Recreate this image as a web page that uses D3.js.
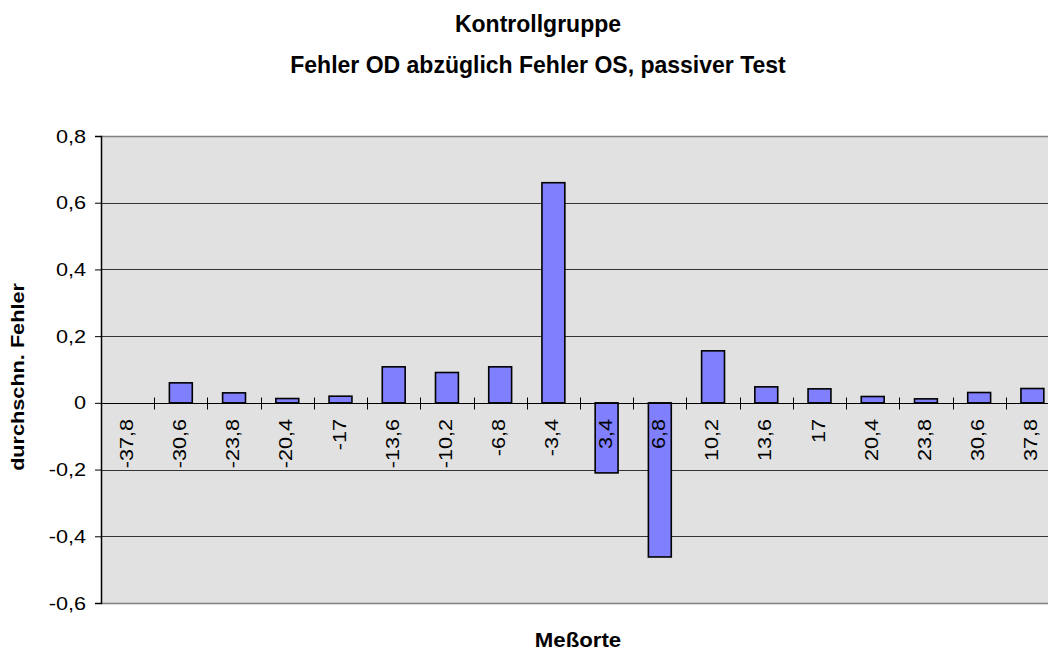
<!DOCTYPE html>
<html>
<head>
<meta charset="utf-8">
<script src="https://cdn.jsdelivr.net/npm/d3@7"></script>
<style>
  body { margin: 0; background: #fff; }
  text { font-family: "Liberation Sans", Arial, sans-serif; }
</style>
</head>
<body>
<svg id="chart"></svg>
<script>
var categories = ["-37,8", "-30,6", "-23,8", "-20,4", "-17", "-13,6", "-10,2", "-6,8", "-3,4",
                  "3,4", "6,8", "10,2", "13,6", "17", "20,4", "23,8", "30,6", "37,8"];
var values = [0, 0.06, 0.03, 0.013, 0.02, 0.108, 0.091, 0.108, 0.66,
              -0.21, -0.462, 0.156, 0.048, 0.042, 0.019, 0.012, 0.031, 0.043];
var yTicks = [-0.6, -0.4, -0.2, 0, 0.2, 0.4, 0.6, 0.8];
var titleLines = ["Kontrollgruppe", "Fehler OD abzüglich Fehler OS, passiver Test"];

var width = 1048;
var height = 653;
var plot = {left: 101, right: 1059, top: 136, bottom: 603};
var stretch = 1.14; // the source text is drawn a little wider than Arial

var de = d3.formatLocale({decimal: ",", thousands: ".", grouping: [3], currency: ["", "€"], minus: "-"});
var fmt = function(d) { return d === 0 ? "0" : de.format(".1f")(d); };

var svg = d3.select("#chart")
    .attr("width", width)
    .attr("height", height);

function widen(sel) {
    sel.each(function() {
        var w = this.getComputedTextLength();
        d3.select(this).attr("textLength", w * stretch).attr("lengthAdjust", "spacingAndGlyphs");
    });
}

var x = d3.scaleBand()
    .domain(categories)
    .range([plot.left, plot.right])
    .padding(0);

var y = d3.scaleLinear()
    .domain([-0.6, 0.8])
    .range([plot.bottom, plot.top]);

// plot background
svg.append("rect")
    .attr("x", plot.left)
    .attr("y", plot.top)
    .attr("width", plot.right - plot.left)
    .attr("height", plot.bottom - plot.top)
    .attr("fill", "#e1e1e1");

// gridlines
svg.append("g").selectAll("line")
    .data(yTicks)
    .enter().append("line")
    .attr("x1", plot.left)
    .attr("x2", plot.right)
    .attr("y1", function(d) { return Math.round(y(d)) + 0.5; })
    .attr("y2", function(d) { return Math.round(y(d)) + 0.5; })
    .attr("stroke", function(d) { return (d === 0.8 || d === -0.6) ? "#808080" : "#333"; })
    .attr("stroke-width", function(d) { return (d === 0.8 || d === -0.6) ? 1.5 : 1; });

// bars
var barW = x.bandwidth() * 0.43;
svg.append("g").selectAll("rect")
    .data(values.map(function(v, i) { return {cat: categories[i], v: v}; }))
    .enter().append("rect")
    .filter(function(d) { return d.v !== 0; })
    .attr("x", function(d) { return x(d.cat) + (x.bandwidth() - barW) / 2; })
    .attr("y", function(d) { return y(Math.max(0, d.v)); })
    .attr("width", barW)
    .attr("height", function(d) { return Math.abs(y(d.v) - y(0)); })
    .attr("fill", "#8080ff")
    .attr("stroke", "#000")
    .attr("stroke-width", 1.6);

// y axis
var yAxis = d3.axisLeft(y)
    .tickValues(yTicks)
    .tickFormat(fmt)
    .tickSize(6)
    .tickPadding(9);
var gy = svg.append("g")
    .attr("transform", "translate(" + plot.left + ",0)")
    .call(yAxis);
gy.attr("font-family", null).attr("font-size", null);
gy.select(".domain").attr("stroke", "#000").attr("stroke-width", 1.5);
gy.selectAll(".tick line").attr("stroke", "#000");
gy.selectAll(".tick text")
    .attr("font-size", 19)
    .attr("fill", "#000")
    .call(widen);

// x axis on zero line, ticks between categories
var zeroY = Math.round(y(0)) + 0.5;
var gx = svg.append("g");
gx.append("line")
    .attr("x1", plot.left)
    .attr("x2", plot.right)
    .attr("y1", zeroY)
    .attr("y2", zeroY)
    .attr("stroke", "#000")
    .attr("stroke-width", 1.2);
gx.selectAll("line.tick")
    .data(categories.slice(1))
    .enter().append("line")
    .attr("class", "tick")
    .attr("x1", function(d) { return Math.round(x(d)) + 0.5; })
    .attr("x2", function(d) { return Math.round(x(d)) + 0.5; })
    .attr("y1", zeroY - 6)
    .attr("y2", zeroY + 6)
    .attr("stroke", "#000");
gx.selectAll("text")
    .data(categories)
    .enter().append("text")
    .attr("transform", function(d) {
        return "translate(" + (x(d) + x.bandwidth() / 2 + 5) + "," + (y(0) + 16) + ") rotate(-90)";
    })
    .attr("text-anchor", "end")
    .attr("font-size", 19)
    .attr("fill", "#000")
    .text(function(d) { return d; })
    .call(widen);

// titles
svg.append("text")
    .attr("x", 538)
    .attr("y", 32)
    .attr("text-anchor", "middle")
    .attr("font-size", 23)
    .attr("font-weight", "bold")
    .text(titleLines[0]);
svg.append("text")
    .attr("x", 538)
    .attr("y", 73)
    .attr("text-anchor", "middle")
    .attr("font-size", 23)
    .attr("font-weight", "bold")
    .text(titleLines[1]);

svg.append("text")
    .attr("x", 578)
    .attr("y", 647)
    .attr("text-anchor", "middle")
    .attr("font-size", 19.5)
    .attr("font-weight", "bold")
    .text("Meßorte")
    .call(widen);

svg.append("text")
    .attr("transform", "translate(24,377) rotate(-90)")
    .attr("text-anchor", "middle")
    .attr("font-size", 19)
    .attr("font-weight", "bold")
    .text("durchschn. Fehler")
    .call(widen);
</script>
</body>
</html>
